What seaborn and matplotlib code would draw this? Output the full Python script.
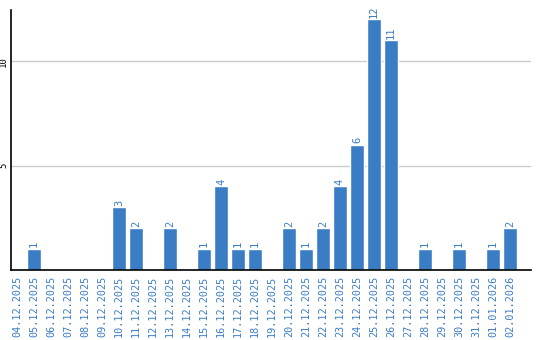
import matplotlib
matplotlib.use("Agg")
import matplotlib.pyplot as plt
import seaborn as sns
import pandas as pd

dates = ["04.12.2025", "05.12.2025", "06.12.2025", "07.12.2025", "08.12.2025",
         "09.12.2025", "10.12.2025", "11.12.2025", "12.12.2025", "13.12.2025",
         "14.12.2025", "15.12.2025", "16.12.2025", "17.12.2025", "18.12.2025",
         "19.12.2025", "20.12.2025", "21.12.2025", "22.12.2025", "23.12.2025",
         "24.12.2025", "25.12.2025", "26.12.2025", "27.12.2025", "28.12.2025",
         "29.12.2025", "30.12.2025", "31.12.2025", "01.01.2026", "02.01.2026"]
counts = [0, 1, 0, 0, 0, 0, 3, 2, 0, 2,
          0, 1, 4, 1, 1, 0, 2, 1, 2, 4,
          6, 12, 11, 0, 1, 0, 1, 0, 1, 2]
yticks = [5, 10]

df = pd.DataFrame({"date": dates, "count": counts})

sns.set_style("white")
plt.rcParams['font.family'] = ['DejaVu Sans Mono', 'DejaVu Sans']

blue = "#3b7dc4"
fig = plt.figure(figsize=(5.4, 3.4), dpi=100)
ax = fig.add_axes([11/540, 70/340, 520/540, 260/340])
sns.barplot(data=df, x="date", y="count", color=blue, saturation=1,
            width=0.82, ax=ax, zorder=2)

ax.set_xlim(-0.35, 30.24)
ax.set_ylim(0, 12.45)
ax.set_yticks(yticks)
ax.set_yticklabels([str(v) for v in yticks], rotation=90, fontsize=6.5,
                   va="center", color="black")
ax.tick_params(axis="y", length=0, pad=2)
ax.tick_params(axis="x", length=0, pad=4)
ax.set_xticks(range(len(dates)))
ax.set_xticklabels(dates, rotation=90, fontsize=7.3, color=blue, va="top", ha="center")
ax.yaxis.grid(True, color="#cccccc", linewidth=1, zorder=0)
ax.set_axisbelow(True)
ax.set_xlabel("")
ax.set_ylabel("")
for s in ["top", "right"]:
    ax.spines[s].set_visible(False)
for s in ["left", "bottom"]:
    ax.spines[s].set_color("black")
    ax.spines[s].set_linewidth(1.2)

for i, v in enumerate(counts):
    if v > 0:
        ax.text(i, v + 0.08, str(v), rotation=90, ha="center", va="bottom",
                fontsize=7.5, color=blue)

fig.savefig("out.png", dpi=100)
